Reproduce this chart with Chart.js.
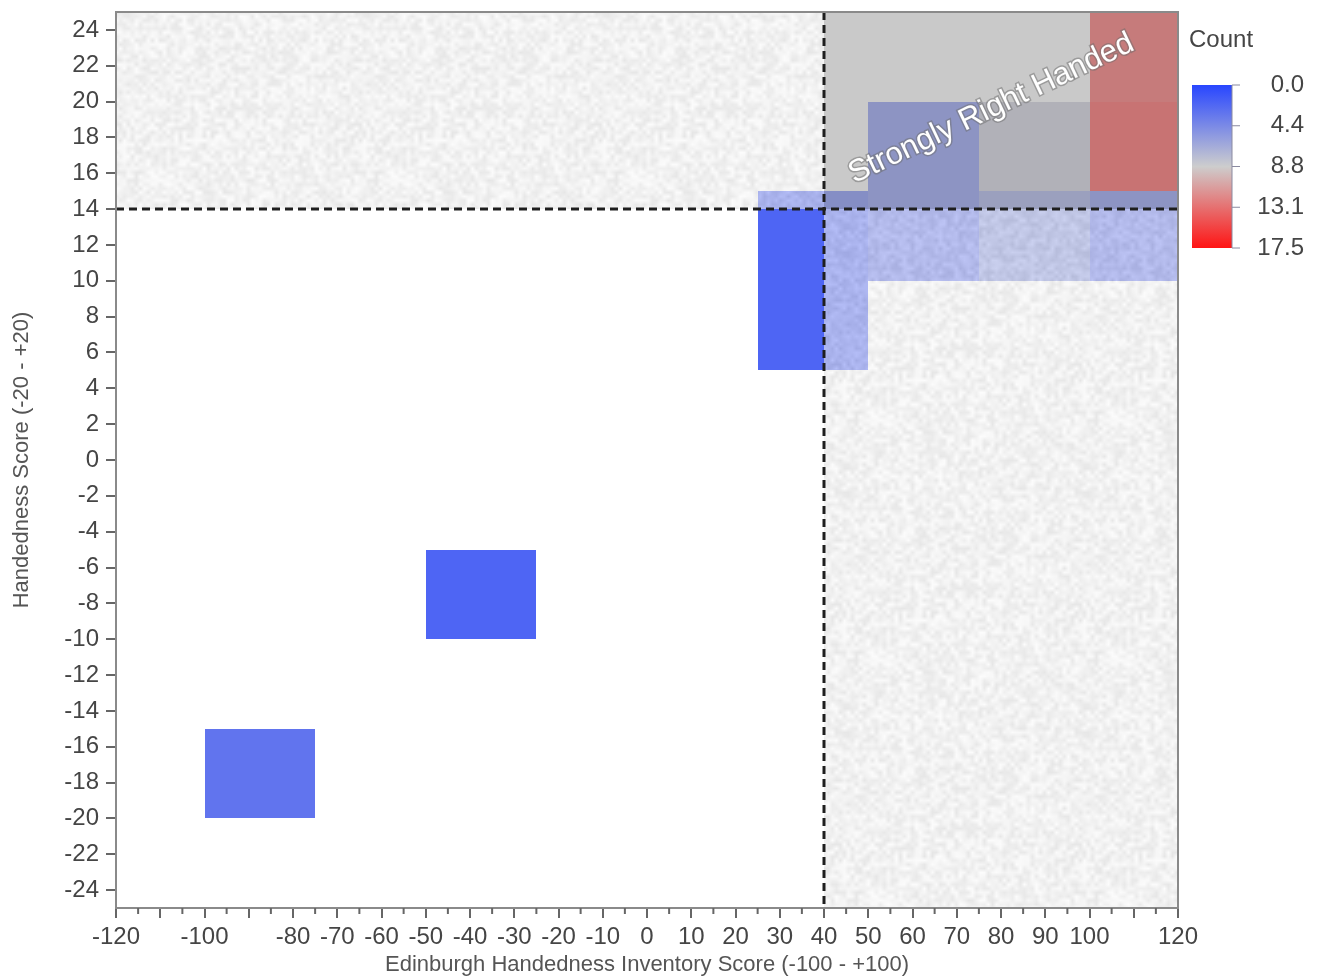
<!DOCTYPE html>
<html>
<head>
<meta charset="utf-8">
<script src="https://cdn.jsdelivr.net/npm/chart.js@4.4.1/dist/chart.umd.min.js"></script>
<style>
  html, body { margin: 0; padding: 0; background: #fff; }
  #wrap { width: 1323px; height: 979px; position: relative; }
</style>
</head>
<body>
<div id="wrap"><canvas id="heat"></canvas></div>
<script>
/* ── Data: 2D histogram bins (lower-left corner of each bin) ── */
const BIN_W = 25;   /* Edinburgh score bin width */
const BIN_H = 5;    /* handedness score bin height */
const cellX     = [-100, -50, 25, 25, 50, 75, 100, 50, 75, 100, 100];
const cellY     = [ -20, -10,  5, 10, 10, 10,  10, 15, 15,  15,  20];
const cellCount = [   3,   2,  2,  2,  3,  5,   3,  3,  8,  17,  16];

/* ── Cut-offs for the "strongly right handed" quadrant ── */
const CUT_X = 40;
const CUT_Y = 14;
const regionLabel = "Strongly Right Handed";
const labelAt = [77.8, 19.6];

/* ── Axis ticks ── */
const xTickLabels = [-120, -100, -80, -70, -60, -50, -40, -30, -20, -10, 0, 10, 20, 30, 40, 50, 60, 70, 80, 90, 100, 120];
const yTickLabels = [-24, -22, -20, -18, -16, -14, -12, -10, -8, -6, -4, -2, 0, 2, 4, 6, 8, 10, 12, 14, 16, 18, 20, 22, 24];

/* ── Colour scale ── */
const COUNT_MAX    = 17.5;
const rampColors   = [[40, 70, 255], [205, 205, 205], [255, 20, 20]];
const legendLabels = ["0.0", "4.4", "8.8", "13.1", "17.5"];

const FONT = "'Liberation Sans', Arial, sans-serif";
const TXT  = "#454545";

function countColor(v) {
  const t = Math.max(0, Math.min(1, v / COUNT_MAX));
  const s = t < 0.5 ? 0 : 1;
  const f = t < 0.5 ? t * 2 : (t - 0.5) * 2;
  const a = rampColors[s], b = rampColors[s + 1];
  return "rgb(" + a.map((c, k) => Math.round(c + (b[k] - c) * f)).join(",") + ")";
}

/* soft grey speckle for the shaded strips: wrap-around value noise, no seams */
function hash(i) { const s = Math.sin(i * 12.9898 + 78.233) * 43758.5453; return s - Math.floor(s); }
function makeSpeckle() {
  const N = 60, K = 4, S = N * K;
  const c = document.createElement("canvas");
  c.width = c.height = S;
  const cx = c.getContext("2d");
  const img = cx.createImageData(S, S);
  const g = (i, j) => hash(((j + N) % N) * N + ((i + N) % N));
  for (let py = 0; py < S; py++) {
    for (let px = 0; px < S; px++) {
      const fx = px / K, fy = py / K;
      const i = Math.floor(fx), j = Math.floor(fy);
      const u = fx - i, w = fy - j;
      const n = (g(i, j) * (1 - u) + g(i + 1, j) * u) * (1 - w) + (g(i, j + 1) * (1 - u) + g(i + 1, j + 1) * u) * w;
      const v = Math.round(214 + n * 36);
      const o = (py * S + px) * 4;
      img.data[o] = v; img.data[o + 1] = v; img.data[o + 2] = v; img.data[o + 3] = 255;
    }
  }
  cx.putImageData(img, 0, 0);
  return c;
}
const speckle = makeSpeckle();

/* ================================================================
   Heatmap plugin: cells, shaded regions, cut lines, label
================================================================ */
const heatPlugin = {
  id: "heat",
  beforeDatasetsDraw(chart) {
    const { ctx, chartArea: a, scales: { x, y } } = chart;
    const X = v => Math.round(x.getPixelForValue(v));
    const Y = v => Math.round(y.getPixelForValue(v));
    ctx.save();
    ctx.beginPath(); ctx.rect(a.left, a.top, a.width, a.height); ctx.clip();

    cellX.forEach((cx, i) => {
      const x0 = X(cx), x1 = X(cx + BIN_W);
      const y0 = Y(cellY[i] + BIN_H), y1 = Y(cellY[i]);
      ctx.fillStyle = countColor(cellCount[i]);
      ctx.fillRect(x0, y0, x1 - x0, y1 - y0);
    });

    const px = X(CUT_X), py = Y(CUT_Y);

    /* speckled strips */
    ctx.globalAlpha = 0.6;
    ctx.fillStyle = ctx.createPattern(speckle, "repeat");
    ctx.fillRect(a.left, a.top, px - a.left, py - a.top);
    ctx.fillRect(px, py, a.right - px, a.bottom - py);

    /* grey quadrant */
    ctx.globalAlpha = 0.62;
    ctx.fillStyle = "rgb(168,168,168)";
    ctx.fillRect(px, a.top, a.right - px, py - a.top);
    ctx.globalAlpha = 1;

    /* cut lines */
    ctx.strokeStyle = "#1e1e1e";
    ctx.lineWidth = 3;
    ctx.setLineDash([8, 5]);
    ctx.beginPath();
    ctx.moveTo(px, a.top); ctx.lineTo(px, a.bottom);
    ctx.moveTo(a.left, py); ctx.lineTo(a.right, py);
    ctx.stroke();
    ctx.setLineDash([]);

    /* quadrant label */
    ctx.translate(x.getPixelForValue(labelAt[0]), y.getPixelForValue(labelAt[1]));
    ctx.rotate(-25.5 * Math.PI / 180);
    ctx.font = "31px " + FONT;
    ctx.textAlign = "center";
    ctx.textBaseline = "middle";
    ctx.lineWidth = 3;
    ctx.strokeStyle = "rgba(110,110,110,0.5)";
    ctx.strokeText(regionLabel, 0, 0);
    ctx.fillStyle = "#fff";
    ctx.fillText(regionLabel, 0, 0);
    ctx.restore();

    /* frame */
    ctx.save();
    ctx.strokeStyle = "#8a8a8a";
    ctx.lineWidth = 2;
    ctx.strokeRect(a.left, a.top, a.width, a.height);

    /* minor x ticks every 5 */
    ctx.strokeStyle = "#666";
    ctx.lineWidth = 2;
    ctx.beginPath();
    for (let v = x.min + 5; v < x.max; v += 10) {
      const p = x.getPixelForValue(v);
      ctx.moveTo(p, a.bottom); ctx.lineTo(p, a.bottom + 6);
    }
    ctx.stroke();
    ctx.restore();
  },

  /* colour bar legend */
  afterDraw(chart) {
    const { ctx } = chart;
    const bx = 1192, by = 85, bw = 40, bh = 163;
    ctx.save();
    ctx.font = "24px " + FONT;
    ctx.fillStyle = TXT;
    ctx.textAlign = "left";
    ctx.textBaseline = "middle";
    ctx.fillText("Count", 1189, 40);

    const g = ctx.createLinearGradient(0, by, 0, by + bh);
    rampColors.forEach((c, i) => g.addColorStop(i / (rampColors.length - 1), "rgb(" + c.join(",") + ")"));
    ctx.fillStyle = g;
    ctx.fillRect(bx, by, bw, bh);

    ctx.strokeStyle = "#8a8aa0";
    ctx.lineWidth = 1;
    ctx.textAlign = "right";
    ctx.fillStyle = TXT;
    legendLabels.forEach((lab, i) => {
      const ty = by + bh * i / (legendLabels.length - 1);
      ctx.beginPath(); ctx.moveTo(bx + bw, ty); ctx.lineTo(bx + bw + 8, ty); ctx.stroke();
      ctx.fillText(lab, 1304, ty);
    });
    ctx.beginPath(); ctx.moveTo(bx + bw, by); ctx.lineTo(bx + bw, by + bh); ctx.stroke();
    ctx.restore();
  },
};

/* ================================================================
   Chart
================================================================ */
const centers = cellX.map((cx, i) => ({ x: cx + BIN_W / 2, y: cellY[i] + BIN_H / 2, c: cellCount[i] }));

new Chart(document.getElementById("heat").getContext("2d"), {
  type: "scatter",
  data: { datasets: [{ label: "Count", data: centers, pointRadius: 0, pointHoverRadius: 0 }] },
  options: {
    responsive: true, maintainAspectRatio: false, animation: false,
    layout: { padding: { left: 0, right: 145, top: 12, bottom: 0 } },
    plugins: { legend: { display: false }, tooltip: { enabled: false } },
    scales: {
      x: {
        type: "linear", min: -120, max: 120,
        afterBuildTicks: s => { const t = []; for (let v = -120; v <= 120; v += 10) t.push({ value: v }); s.ticks = t; },
        afterFit: s => { s.height = 71; s.paddingLeft = 0; s.paddingRight = 0; },
        ticks: {
          autoSkip: false, maxRotation: 0, padding: 5, color: TXT,
          font: { family: FONT, size: 24 },
          callback: v => xTickLabels.includes(v) ? String(v) : "",
        },
        grid: { drawOnChartArea: false, tickLength: 10, color: "#666", lineWidth: 2 },
        border: { color: "#8a8a8a", width: 2 },
        title: {
          display: true, text: "Edinburgh Handedness Inventory Score (-100 - +100)",
          color: "#555", font: { family: FONT, size: 22 }, padding: { top: 0, bottom: 1 },
        },
      },
      y: {
        type: "linear", min: -25, max: 25,
        afterBuildTicks: s => { s.ticks = yTickLabels.map(v => ({ value: v })); },
        afterFit: s => { s.width = 116; s.paddingTop = 0; s.paddingBottom = 0; },
        ticks: { padding: 7, color: TXT, font: { family: FONT, size: 24 } },
        grid: { drawOnChartArea: false, tickLength: 10, color: "#666", lineWidth: 2 },
        border: { color: "#8a8a8a", width: 2 },
        title: {
          display: true, text: "Handedness Score (-20 - +20)",
          color: "#555", font: { family: FONT, size: 22 }, padding: { top: 9, bottom: 0 },
        },
      },
    },
  },
  plugins: [heatPlugin],
});
</script>
</body>
</html>
